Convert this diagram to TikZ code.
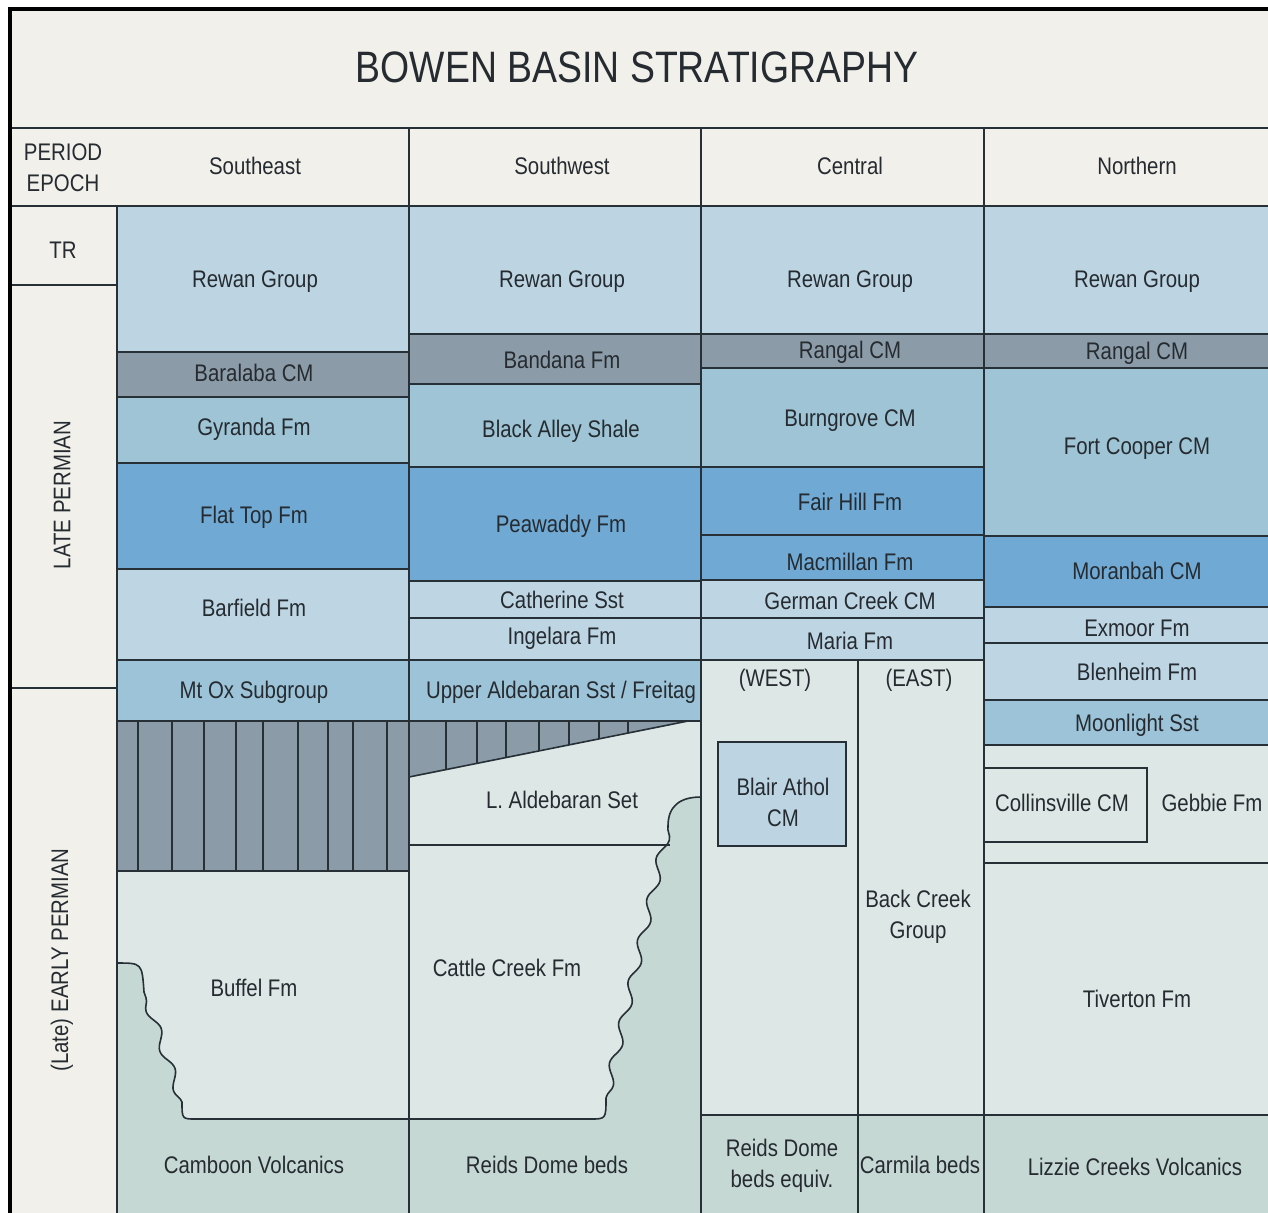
\documentclass[tikz,border=0pt]{standalone}
\usepackage{fontspec}
\setmainfont{Liberation Sans}[FakeStretch=0.85]
\usetikzlibrary{decorations.pathmorphing}
\definecolor{cream}{HTML}{F1F0EB}
\definecolor{rewan}{HTML}{BDD5E3}
\definecolor{dgrey}{HTML}{8B9CA8}
\definecolor{mteal}{HTML}{9EC4D5}
\definecolor{bright}{HTML}{6FA9D4}
\definecolor{lblue}{HTML}{BED6E4}
\definecolor{mtblue}{HTML}{9CC3D7}
\definecolor{pale}{HTML}{DDE7E5}
\definecolor{dpale}{HTML}{C6D8D4}
\definecolor{linec}{HTML}{263036}
\definecolor{txt}{HTML}{252B30}
\tikzset{
  unit/.style={fill=#1, draw=linec, line width=0.8pt},
  lab/.style={text=txt, font=\fontsize{12}{15.5}\selectfont, inner sep=0pt, align=center},
  wavy/.style={decoration={snake, amplitude=2.2pt, segment length=21pt}},
}
\begin{document}
\begin{tikzpicture}[x=0.5pt,y=-0.5pt]
\useasboundingbox (0,0) rectangle (1268,1212);
\clip (0,0) rectangle (1268,1212);
\fill[white] (0,0) rectangle (1268,1212);
\fill[cream] (10,9) rectangle (1290,1230);
% header row and period column
\draw[unit=cream] (10,128) rectangle (1290,206);
\draw[unit=cream] (10,206) rectangle (117,285);
\draw[unit=cream] (10,285) rectangle (117,688);
\draw[unit=cream] (10,688) rectangle (117,1230);
\draw[linec, line width=0.8pt] (409,128) -- (409,206) (701,128) -- (701,206) (984,128) -- (984,206);
% Southeast
\draw[unit=rewan] (117,206) rectangle (409,352);
\draw[unit=dgrey] (117,352) rectangle (409,397);
\draw[unit=mteal] (117,397) rectangle (409,463);
\draw[unit=bright] (117,463) rectangle (409,569);
\draw[unit=lblue] (117,569) rectangle (409,660);
\draw[unit=mtblue] (117,660) rectangle (409,721);
\draw[unit=dgrey] (117,721) rectangle (409,871);
\foreach \xx in {138,172,204,236,263,298,328,353,387} \draw[linec, line width=0.6pt] (\xx,721) -- (\xx,871);
\draw[unit=dpale] (117,871) rectangle (409,1230);
\draw[unit=pale] (117,871) -- (409,871) -- (409,1119) -- (196,1119) .. controls (182,1119) .. (182,1102)
  decorate[wavy]{ -- (144,992)} .. controls (142,963) .. (117,963) -- cycle;
% Southwest
\draw[unit=rewan] (409,206) rectangle (701,334);
\draw[unit=dgrey] (409,334) rectangle (701,384);
\draw[unit=mteal] (409,384) rectangle (701,467);
\draw[unit=bright] (409,467) rectangle (701,581);
\draw[unit=lblue] (409,581) rectangle (701,618);
\draw[unit=lblue] (409,618) rectangle (701,660);
\draw[unit=mtblue] (409,660) rectangle (701,721);
\draw[unit=dpale] (409,721) rectangle (701,1230);
\draw[unit=pale] (409,721) -- (701,721) -- (701,797) .. controls (680,797) and (668,806) .. (668,826)
  decorate[wavy]{ -- (606,1098)} .. controls (606,1119) .. (590,1119) -- (409,1119) -- cycle;
\draw[linec, line width=0.8pt] (409,845) -- (670,845);
\draw[unit=dgrey] (409,721) -- (688,721) -- (409,777) -- cycle;
\foreach \xx in {446,477,506,539,569,599,628} \draw[linec, line width=0.6pt] (\xx,721) -- (\xx,{777-(\xx-409)*56/279});
% Central
\draw[unit=rewan] (701,206) rectangle (984,334);
\draw[unit=dgrey] (701,334) rectangle (984,368);
\draw[unit=mteal] (701,368) rectangle (984,467);
\draw[unit=bright] (701,467) rectangle (984,535);
\draw[unit=bright] (701,535) rectangle (984,580);
\draw[unit=lblue] (701,580) rectangle (984,618);
\draw[unit=lblue] (701,618) rectangle (984,660);
\draw[unit=pale] (701,660) rectangle (858,1115);
\draw[unit=pale] (858,660) rectangle (984,1115);
\draw[unit=dpale] (701,1115) rectangle (858,1230);
\draw[unit=dpale] (858,1115) rectangle (984,1230);
\draw[unit=rewan] (718,742) rectangle (846,846);
% Northern
\draw[unit=rewan] (984,206) rectangle (1290,334);
\draw[unit=dgrey] (984,334) rectangle (1290,368);
\draw[unit=mteal] (984,368) rectangle (1290,536);
\draw[unit=bright] (984,536) rectangle (1290,607);
\draw[unit=lblue] (984,607) rectangle (1290,643);
\draw[unit=lblue] (984,643) rectangle (1290,700);
\draw[unit=mtblue] (984,700) rectangle (1290,745);
\draw[unit=pale] (984,745) rectangle (1290,863);
\draw[unit=pale] (984,768) rectangle (1147,842);
\draw[unit=pale] (984,863) rectangle (1290,1115);
\draw[unit=dpale] (984,1115) rectangle (1290,1230);
% outer frame
\draw[black, line width=1.6pt] (10,1240) -- (10,9) -- (1290,9);
% texts
\node[lab, font=\fontsize{22}{26}\selectfont] (title) at (637,67) {BOWEN BASIN STRATIGRAPHY};
\node[lab] (pe) at (63,168) {PERIOD\\EPOCH};
\node[lab] (hse) at (255,166) {Southeast};
\node[lab] (hsw) at (562,166) {Southwest};
\node[lab] (hc) at (850,166) {Central};
\node[lab] (hn) at (1137,166) {Northern};
\node[lab] (tr) at (63,250) {TR};
\node[lab, rotate=90] (lp) at (62,495) {LATE PERMIAN};
\node[lab, rotate=90] (ep) at (62,960) {(Late) EARLY PERMIAN};
% SE
\node[lab] (se1) at (255,282) {Rewan Group};
\node[lab] (se2) at (254,373) {Baralaba CM};
\node[lab] (se3) at (254,429) {Gyranda Fm};
\node[lab] (se4) at (254,517) {Flat Top Fm};
\node[lab] (se5) at (254,608) {Barfield Fm};
\node[lab] (se6) at (254,692) {Mt Ox Subgroup};
\node[lab] (se7) at (254,988) {Buffel Fm};
\node[lab] (se8) at (254,1165) {Camboon Volcanics};
% SW
\node[lab] (sw1) at (562,282) {Rewan Group};
\node[lab] (sw2) at (562,360) {Bandana Fm};
\node[lab] (sw3) at (561,431) {Black Alley Shale};
\node[lab] (sw4) at (561,526) {Peawaddy Fm};
\node[lab] (sw5) at (562,600) {Catherine Sst};
\node[lab] (sw6) at (562,638) {Ingelara Fm};
\node[lab] (sw7) at (561,692) {Upper Aldebaran Sst / Freitag};
\node[lab] (sw8) at (562,800) {L. Aldebaran Set};
\node[lab] (sw9) at (507,968) {Cattle Creek Fm};
\node[lab] (sw10) at (547,1165) {Reids Dome beds};
% Central
\node[lab] (c1) at (850,282) {Rewan Group};
\node[lab] (c2) at (850,352) {Rangal CM};
\node[lab] (c3) at (850,421) {Burngrove CM};
\node[lab] (c4) at (850,502) {Fair Hill Fm};
\node[lab] (c5) at (850,562) {Macmillan Fm};
\node[lab] (c6) at (850,601) {German Creek CM};
\node[lab] (c7) at (850,641) {Maria Fm};
\node[lab] (c8) at (775,680) {(WEST)};
\node[lab] (c9) at (919,680) {(EAST)};
\node[lab] (c10) at (783,802) {Blair Athol\\CM};
\node[lab] (c11) at (918,917) {Back Creek\\Group};
\node[lab] (c12) at (782,1166) {Reids Dome\\beds equiv.};
\node[lab] (c13) at (920,1165) {Carmila beds};
% Northern
\node[lab] (n1) at (1137,282) {Rewan Group};
\node[lab] (n2) at (1137,353) {Rangal CM};
\node[lab] (n3) at (1137,449) {Fort Cooper CM};
\node[lab] (n4) at (1137,571) {Moranbah CM};
\node[lab] (n5) at (1137,628) {Exmoor Fm};
\node[lab] (n6) at (1137,672) {Blenheim Fm};
\node[lab] (n7) at (1137,725) {Moonlight Sst};
\node[lab] (n8) at (1062,803) {Collinsville CM};
\node[lab] (n9) at (1212,803) {Gebbie Fm};
\node[lab] (n10) at (1137,999) {Tiverton Fm};
\node[lab] (n11) at (1135,1167) {Lizzie Creeks Volcanics};
\end{tikzpicture}
\end{document}
